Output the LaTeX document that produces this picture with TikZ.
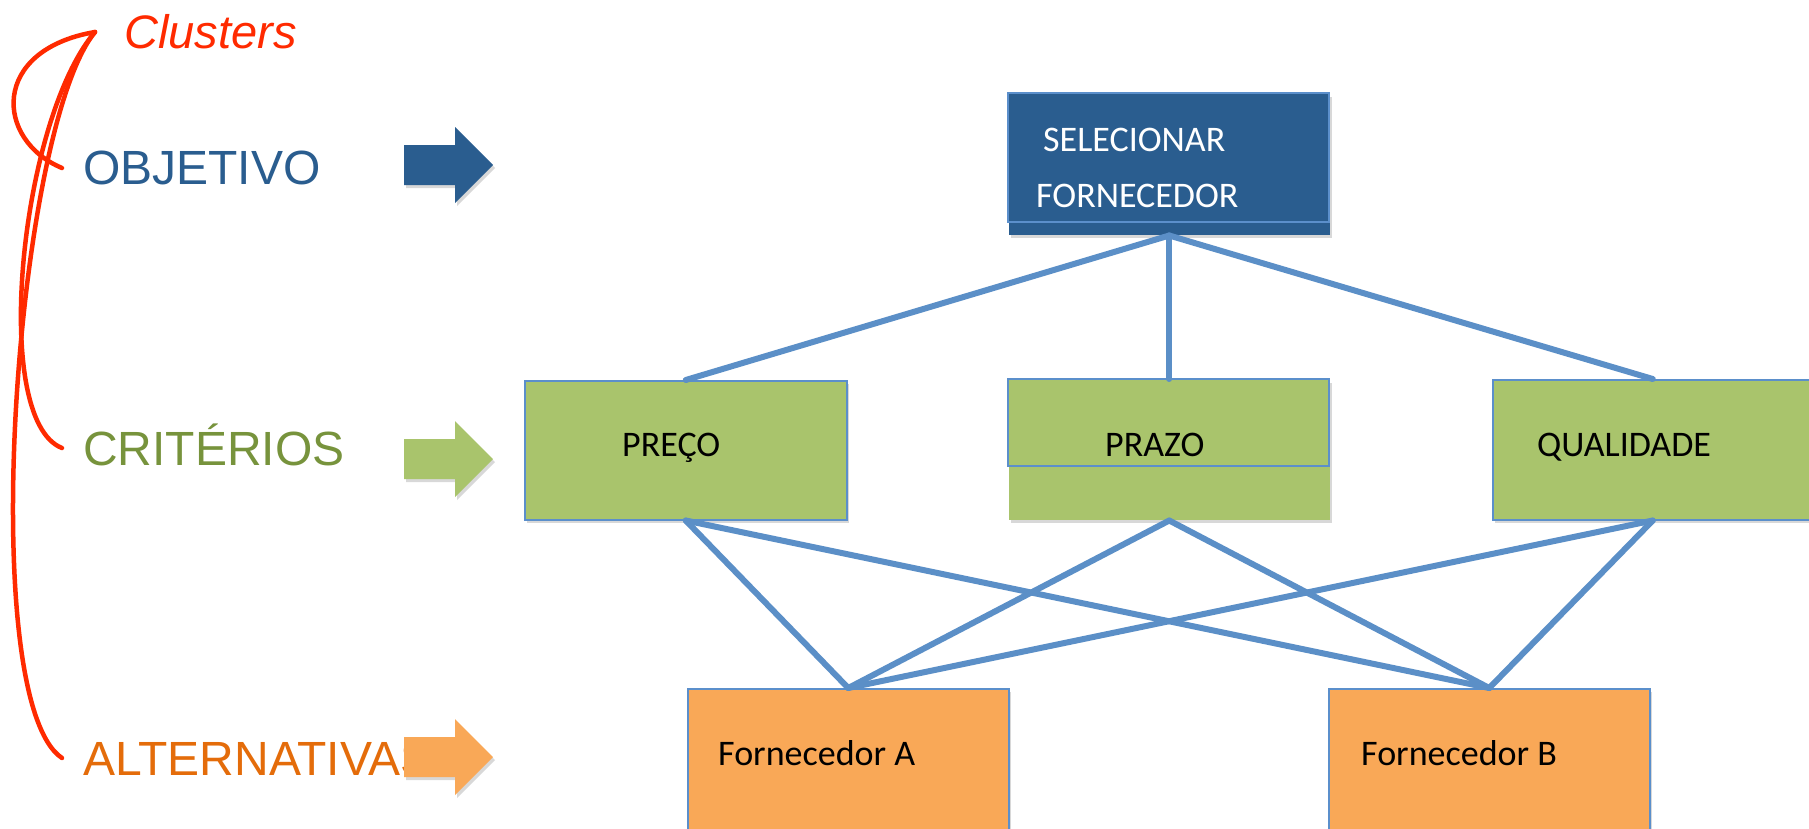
\documentclass[tikz,border=0pt]{standalone}
\usepackage{fontspec}
\setmainfont{Liberation Sans}
\newfontfamily\calib{Carlito}
\usetikzlibrary{shadows}
\definecolor{objblue}{HTML}{2A5D8F}
\definecolor{boxgreen}{HTML}{A9C46C}
\definecolor{boxorange}{HTML}{F9A857}
\definecolor{linkblue}{HTML}{5B8FC7}
\definecolor{edgeblue}{HTML}{5B8FCB}
\definecolor{critgreen}{HTML}{77933C}
\definecolor{altorange}{HTML}{E46C0A}
\definecolor{inkred}{HTML}{FF2A00}
\begin{document}
\begin{tikzpicture}[x=1pt,y=-1pt,
  shade/.style={drop shadow={opacity=0.3, shadow xshift=2pt, shadow yshift=-3pt}},
  box/.style={draw=edgeblue, line width=1.5pt, inner sep=0pt, anchor=north west, shade},
  boxtext/.style={anchor=base west, inner sep=0pt, font=\calib\fontsize{36}{43}\selectfont},
  biglabel/.style={anchor=base west, inner sep=0pt, font=\fontsize{48}{58}\selectfont},
  link/.style={draw=linkblue, line width=6pt, line cap=round, line join=round},
  ink/.style={draw=inkred, line width=4.5pt, line cap=round},
  pics/fatarrow/.style={code={\fill[#1, shade] (0,-20) -- (51,-20) -- (51,-38) -- (89,0) -- (51,38) -- (51,20) -- (0,20) -- cycle;}}
]
\useasboundingbox (0,0) rectangle (1809,828);
\clip (0,0) rectangle (1809,828);
\fill[white] (0,0) rectangle (1809,828);

% boxes
\node[box, draw=none, fill=objblue, minimum width=321pt, minimum height=141pt] (sel) at (1008,93) {};
\draw[edgeblue, line width=1.5pt] (1008,93) rectangle (1329,222);
\node[box, fill=boxgreen, minimum width=322pt, minimum height=139pt] (preco) at (524,380) {};
\node[box, draw=none, fill=boxgreen, minimum width=321pt, minimum height=140pt] (prazo) at (1008,379) {};
\draw[edgeblue, line width=1.5pt] (1008,379) rectangle (1329,466);
\node[box, fill=boxgreen, minimum width=320pt, minimum height=140pt] (qual) at (1492,379) {};
\node[box, fill=boxorange, minimum width=321pt, minimum height=200pt] (fa) at (687,688) {};
\node[box, fill=boxorange, minimum width=321pt, minimum height=200pt] (fb) at (1328,688) {};

% box texts
\node[boxtext, text=white] (t1) at (1043,151) {SELECIONAR};
\node[boxtext, text=white] (t2) at (1036,207) {FORNECEDOR};
\node[boxtext] (t3) at (622,456) {PREÇO};
\node[boxtext] (t4) at (1105,456) {PRAZO};
\node[boxtext] (t5) at (1537,456) {QUALIDADE};
\node[boxtext] (t6) at (718,765) {Fornecedor A};
\node[boxtext] (t7) at (1361,765) {Fornecedor B};

% connectors
\draw[link] (sel.south) -- (preco.north);
\draw[link] (sel.south) -- (prazo.north);
\draw[link] (sel.south) -- (qual.north);
\draw[link] (preco.south) -- (fa.north);
\draw[link] (preco.south) -- (fb.north);
\draw[link] (prazo.south) -- (fa.north);
\draw[link] (prazo.south) -- (fb.north);
\draw[link] (qual.south) -- (fa.north);
\draw[link] (qual.south) -- (fb.north);

% left labels
\node[biglabel, text=objblue] (lobj) at (83,184) {OBJETIVO};
\node[biglabel, text=critgreen] (lcrit) at (83,465) {CRITÉRIOS};
\node[biglabel, text=altorange] (lalt) at (83,775) {ALTERNATIVAS};
\node[anchor=base west, inner sep=0pt, text=inkred, font=\itshape\fontsize{47}{56}\selectfont] (clu) at (124,48) {Clusters};

% arrows
\pic at (404,165) {fatarrow=objblue};
\pic at (404,459) {fatarrow=boxgreen};
\pic at (404,757) {fatarrow=boxorange};

% red ink curves
\coordinate (J) at (95,32);
\coordinate (eA) at (62,168);
\coordinate (eB) at (62,448);
\coordinate (eC) at (62,758);
\draw[ink] (J) .. controls (-10,50) and (-5,140) .. (eA);
\draw[ink] (J) .. controls (20,120) and (-10,420) .. (eB);
\draw[ink] (J) .. controls (15,130) and (-25,700) .. (eC);
\end{tikzpicture}
\end{document}
